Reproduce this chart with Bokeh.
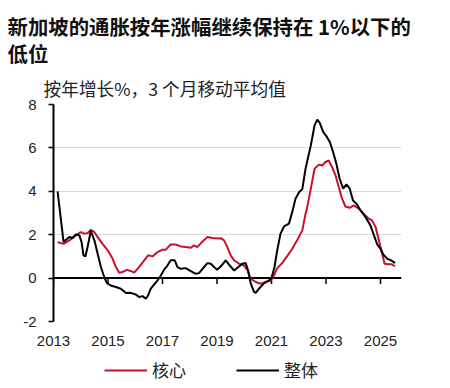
from bokeh.plotting import figure
from bokeh.layouts import column
from bokeh.models import Title, Span, FixedTicker, Range1d, Legend, LegendItem
from bokeh.embed import file_html
from bokeh.resources import INLINE

title_line1 = "新加坡的通胀按年涨幅继续保持在 1%以下的"
title_line2 = "低位"
subtitle = "按年增长%，3 个月移动平均值"

year_ticks = [2013, 2015, 2017, 2019, 2021, 2023, 2025]
year_labels = ["2013", "2015", "2017", "2019", "2021", "2023", "2025"]
y_ticks = [-2, 0, 2, 4, 6, 8]
y_labels = ["-2", "0", "2", "4", "6", "8"]

series_names = ["核心", "整体"]

# Headline (整体)
headline_t = [2013.15, 2013.37, 2013.47, 2013.58, 2013.70, 2013.82, 2013.95, 2014.03, 2014.10, 2014.17,
              2014.25, 2014.37, 2014.50, 2014.62, 2014.74, 2014.86, 2014.96, 2015.10, 2015.29, 2015.47,
              2015.66, 2015.83, 2016.01, 2016.14, 2016.27, 2016.39, 2016.47, 2016.57, 2016.69, 2016.82,
              2016.94, 2017.06, 2017.18, 2017.30, 2017.45, 2017.55, 2017.67, 2017.85, 2018.04, 2018.22,
              2018.34, 2018.47, 2018.65, 2018.77, 2018.89, 2019.00, 2019.14, 2019.32, 2019.44, 2019.63,
              2019.75, 2019.93, 2020.05, 2020.14, 2020.24, 2020.36, 2020.42, 2020.54, 2020.73, 2020.91,
              2021.00, 2021.11, 2021.21, 2021.33, 2021.46, 2021.64, 2021.76, 2021.88, 2022.01, 2022.13,
              2022.25, 2022.44, 2022.58, 2022.68, 2022.77, 2022.90, 2023.02, 2023.14, 2023.26, 2023.38,
              2023.50, 2023.63, 2023.75, 2023.87, 2023.99, 2024.12, 2024.27, 2024.45, 2024.63, 2024.76,
              2024.88, 2025.00, 2025.10, 2025.25, 2025.39, 2025.53]
headline_v = [4.00, 1.66, 1.78, 1.89, 1.85, 2.01, 1.97, 1.66, 1.05, 1.00,
              1.43, 2.17, 1.74, 1.12, 0.51, 0.05, -0.23, -0.34, -0.41, -0.49,
              -0.69, -0.68, -0.75, -0.87, -0.83, -0.95, -0.80, -0.49, -0.30, -0.10,
              0.12, 0.39, 0.58, 0.82, 0.82, 0.51, 0.43, 0.46, 0.32, 0.20,
              0.23, 0.43, 0.69, 0.66, 0.51, 0.39, 0.54, 0.82, 0.62, 0.35,
              0.48, 0.66, 0.70, 0.35, -0.26, -0.64, -0.68, -0.49, -0.23, -0.11,
              0.00, 0.51, 1.28, 2.05, 2.38, 2.51, 3.04, 3.66, 3.96, 4.10,
              5.05, 6.10, 7.04, 7.30, 7.15, 6.73, 6.53, 6.27, 5.81, 5.27,
              4.58, 4.12, 4.32, 4.12, 3.58, 3.43, 3.12, 2.81, 2.43, 1.97,
              1.55, 1.35, 1.09, 0.89, 0.82, 0.69]

# Core (核心)
core_t = [2013.15, 2013.25, 2013.37, 2013.58, 2013.82, 2014.00, 2014.14, 2014.27, 2014.37, 2014.50,
          2014.62, 2014.80, 2014.99, 2015.17, 2015.29, 2015.41, 2015.53, 2015.69, 2015.83, 2015.96,
          2016.14, 2016.33, 2016.47, 2016.63, 2016.82, 2017.00, 2017.12, 2017.30, 2017.48, 2017.67,
          2017.85, 2018.04, 2018.16, 2018.28, 2018.47, 2018.65, 2018.83, 2019.04, 2019.14, 2019.26,
          2019.38, 2019.50, 2019.63, 2019.81, 2019.99, 2020.12, 2020.24, 2020.42, 2020.61, 2020.79,
          2020.97, 2021.09, 2021.21, 2021.39, 2021.57, 2021.76, 2021.94, 2022.13, 2022.25, 2022.31,
          2022.44, 2022.58, 2022.74, 2022.86, 2022.98, 2023.10, 2023.22, 2023.35, 2023.47, 2023.59,
          2023.71, 2023.87, 2024.01, 2024.20, 2024.38, 2024.57, 2024.69, 2024.82, 2024.94, 2025.06,
          2025.15, 2025.30, 2025.39, 2025.53]
core_v = [1.66, 1.62, 1.58, 1.74, 1.97, 2.12, 2.05, 2.08, 2.23, 2.12,
          1.89, 1.58, 1.28, 0.89, 0.51, 0.25, 0.28, 0.38, 0.33, 0.25,
          0.51, 0.82, 1.05, 1.00, 1.20, 1.31, 1.31, 1.55, 1.55, 1.46,
          1.43, 1.40, 1.51, 1.43, 1.69, 1.89, 1.85, 1.82, 1.84, 1.74,
          1.43, 1.05, 0.82, 0.66, 0.58, 0.35, -0.03, -0.18, -0.26, -0.18,
          -0.11, 0.12, 0.46, 0.69, 1.00, 1.35, 1.74, 2.20, 2.97, 3.27,
          4.10, 5.04, 5.23, 5.19, 5.35, 5.42, 5.12, 4.73, 4.19, 3.66,
          3.30, 3.24, 3.35, 3.20, 2.97, 2.74, 2.66, 2.35, 1.74, 1.12,
          0.66, 0.64, 0.64, 0.55]

RED = "#C8102E"
BLACK = "#000000"
LATIN = "Liberation Sans"
CJK = "Noto Sans CJK SC"
W = 450
LEG_H = 32

# ---- main chart ----
p = figure(width=W, height=388 - LEG_H, output_backend="svg", toolbar_location=None,
           x_range=Range1d(2013.0, 2025.77), y_range=Range1d(-2, 8),
           min_border_left=53, min_border_right=49, min_border_top=104, min_border_bottom=35)
p.outline_line_color = None
p.background_fill_color = "white"
p.border_fill_color = "white"

p.xaxis.ticker = FixedTicker(ticks=year_ticks)
p.xaxis.major_label_overrides = {k: v for k, v in zip(year_ticks, year_labels)}
p.xaxis.axis_line_color = None
p.xaxis.major_tick_line_color = None
p.xaxis.minor_tick_line_color = None
p.xaxis.major_tick_out = 0
p.xaxis.major_tick_in = 0
p.xaxis.major_label_standoff = 14
p.xaxis.major_label_text_font = LATIN
p.xaxis.major_label_text_font_size = "15px"
p.xaxis.major_label_text_color = "#222222"

p.yaxis.ticker = FixedTicker(ticks=y_ticks)
p.yaxis.major_label_overrides = {k: v for k, v in zip(y_ticks, y_labels)}
p.yaxis.axis_line_color = BLACK
p.yaxis.axis_line_width = 2
p.yaxis.major_tick_line_color = BLACK
p.yaxis.major_tick_line_width = 1.5
p.yaxis.major_tick_out = 5
p.yaxis.major_tick_in = 0
p.yaxis.minor_tick_line_color = None
p.yaxis.major_label_standoff = 12
p.yaxis.major_label_text_font = LATIN
p.yaxis.major_label_text_font_size = "15px"
p.yaxis.major_label_text_color = "#222222"

p.xgrid.visible = False
p.ygrid.ticker = FixedTicker(ticks=y_ticks)
p.ygrid.grid_line_color = "#d9d9d9"
p.ygrid.grid_line_width = 1

p.add_layout(Span(location=0, dimension="width", line_color=BLACK, line_width=2, level="underlay"))
p.segment(x0=year_ticks, y0=[0] * len(year_ticks), x1=year_ticks, y1=[-0.27] * len(year_ticks),
          line_color=BLACK, line_width=1.5)

p.line(core_t, core_v, line_color=RED, line_width=2)
p.line(headline_t, headline_v, line_color=BLACK, line_width=2)

# titles: the first one added sits closest to the plot frame
p.add_layout(Title(text=subtitle, align="left", offset=-10, standoff=8,
                   text_font=CJK, text_font_style="normal", text_font_size="17.7px",
                   text_color="#222222"), "above")
p.add_layout(Title(text=title_line1 + "\n" + title_line2, align="left", offset=-46, standoff=0,
                   text_font=CJK, text_font_style="bold", text_font_size="20.4px",
                   text_line_height=0.93, text_color="#111111"), "above")

# ---- legend block ----
lg = figure(width=W, height=LEG_H, output_backend="svg", toolbar_location=None,
            x_range=Range1d(0, 1), y_range=Range1d(0, 1),
            min_border_left=53, min_border_right=49, min_border_top=0, min_border_bottom=0)
lg.outline_line_color = None
lg.background_fill_color = "white"
lg.border_fill_color = "white"
lg.axis.visible = False
lg.grid.visible = False
k_core = lg.line(core_t, core_v, line_color=RED, line_width=2)
k_head = lg.line(headline_t, headline_v, line_color=BLACK, line_width=2)
legend = Legend(items=[LegendItem(label=series_names[0], renderers=[k_core]),
                       LegendItem(label=series_names[1], renderers=[k_head])],
                orientation="horizontal", location=(51, 6), padding=0, margin=0,
                spacing=50, glyph_width=43, glyph_height=20, label_height=20, label_standoff=5,
                label_text_font=CJK, label_text_font_size="17px", label_text_color="#222222",
                border_line_color=None, background_fill_alpha=0)
lg.add_layout(legend)

layout = column(p, lg, spacing=0)
open("out.html", "w").write(file_html(layout, INLINE))
